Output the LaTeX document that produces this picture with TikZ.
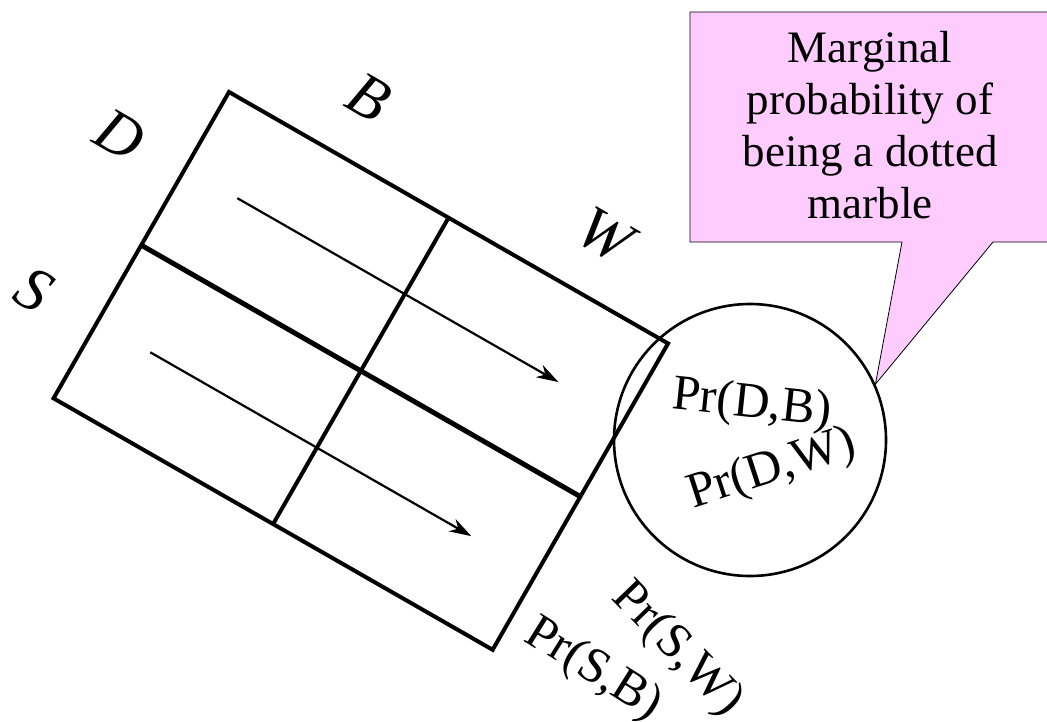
\documentclass[tikz,border=0pt]{standalone}
\usepackage{fontspec}
\setmainfont{Liberation Serif}
\usetikzlibrary{arrows.meta,calc}

\definecolor{notepink}{RGB}{255,204,255}

\begin{document}
\begin{tikzpicture}[x=1pt,y=-1pt,
  frame line/.style={line width=4pt,line join=miter},
  mid line/.style={line width=5pt},
  flow arrow/.style={line width=2.2pt,-{Stealth[length=22pt,width=14pt,inset=7pt]}},
  var label/.style={font=\fontsize{62}{70}\selectfont\itshape,rotate=-30,inner sep=0pt},
  pr label/.style={font=\fontsize{50}{58}\selectfont,inner sep=0pt},
  callout/.style={draw=black,line width=0.8pt,fill=notepink},
  callout text/.style={font=\fontsize{45}{52}\selectfont,align=center,inner sep=0pt}]
  \useasboundingbox (0,0) rectangle (1047,721);
  \clip (0,0) rectangle (1047,721);

  % the 2x2 table, turned along its long side
  \begin{scope}[shift={(229,92)},rotate=-29.8]
    \coordinate (T) at (0,0);
    \coordinate (R) at (506,0);
    \coordinate (Bt) at (506,353);
    \coordinate (L) at (0,353);
    \coordinate (a1) at (60,88);
    \coordinate (a2) at (430,88);
    \coordinate (b1) at (61,265);
    \coordinate (b2) at (431,265);
  \end{scope}
  \draw[frame line] (T) -- (R) -- (Bt) -- (L) -- cycle;
  \draw[mid line] ($(T)!0.5!(L)$) -- ($(R)!0.5!(Bt)$);
  \draw[frame line] ($(T)!0.5!(R)$) -- ($(L)!0.5!(Bt)$);
  \draw[flow arrow] (a1) -- (a2);
  \draw[flow arrow] (b1) -- (b2);

  \node[var label] (D) at (120,135) {D};
  \node[var label] (B) at (369,97) {B};
  \node[var label] (W) at (605,235) {W};
  \node[var label] (S) at (34,290) {S};

  % marginal over the top row
  \node[circle,draw,line width=2.6pt,minimum size=272pt,inner sep=0pt] (pair) at (750,440) {};
  \node[pr label,rotate=-6] (DB) at (752,405) {Pr(D,B)};
  \node[pr label,rotate=18] (DW) at (772,470) {Pr(D,W)};

  \node[pr label,rotate=-46] (SW) at (677,650) {Pr(S,W)};
  \node[pr label,rotate=-32] (SB) at (593,670) {Pr(S,B)};

  % speech bubble
  \coordinate (tip) at (pair.24);
  \draw[callout] (690,12) -- (1052,12) -- (1052,242) -- (993,242) -- (tip)
    -- (902,242) -- (690,242) -- cycle;
  \node[callout text] (note) at (870,125) {Marginal\\probability of\\being a dotted\\marble};
\end{tikzpicture}
\end{document}
